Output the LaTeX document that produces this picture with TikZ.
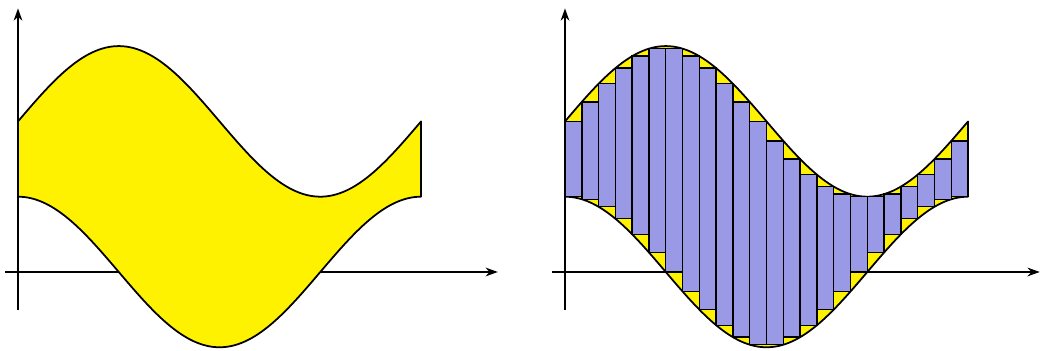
\documentclass[tikz,border=0pt]{standalone}
\usetikzlibrary{arrows.meta}
\definecolor{jaune}{RGB}{255,242,0}
\definecolor{lavande}{RGB}{153,153,230}
\begin{document}
\begin{tikzpicture}[
    x=1.283cm, y=1.506cm,
    axe/.style={line width=0.8pt, -{Stealth[length=7pt,width=5pt]}}, % axes
    domaine/.style={fill=jaune, draw=black, line width=1pt, line join=round}, % aire entre les courbes
    bande/.style={fill=lavande, draw=black, line width=0.8pt} % rectangles
]
\useasboundingbox (-0.2806,-1.049) rectangle (15.947,3.612);
% Figure de gauche
\coordinate (O1) at (0,0);
\draw[axe] ([yshift=-0.5cm*1.506]O1) -- ++(0,4);
\draw[axe] ([xshift=-0.2cm*1.283]O1) -- ++(7.68,0);
\draw[domaine] plot[domain=0:2*pi, samples=120] (\x,{2+sin(\x r)})
    -- plot[domain=2*pi:0, samples=120] (\x,{cos(\x r)}) -- cycle;
% Figure de droite
\begin{scope}[shift={(8.527,0)}]
\coordinate (O2) at (0,0);
\draw[axe] ([yshift=-0.5cm*1.506]O2) -- ++(0,4);
\draw[axe] ([xshift=-0.2cm*1.283]O2) -- ++(7.6,0);
\draw[domaine] plot[domain=0:2*pi, samples=120] (\x,{2+sin(\x r)})
    -- plot[domain=2*pi:0, samples=120] (\x,{cos(\x r)}) -- cycle;
% Rectangles inscrits
\foreach \i in {0,...,23} {
    \pgfmathsetmacro\xa{\i*pi/12}
    \pgfmathsetmacro\xb{(\i+1)*pi/12}
    \pgfmathsetmacro\haut{2+min(sin(\i*15),sin((\i+1)*15))}
    \pgfmathsetmacro\bas{max(cos(\i*15),cos((\i+1)*15))}
    \draw[bande] (\xa,\bas) rectangle (\xb,\haut);
}
\end{scope}
\end{tikzpicture}
\end{document}
